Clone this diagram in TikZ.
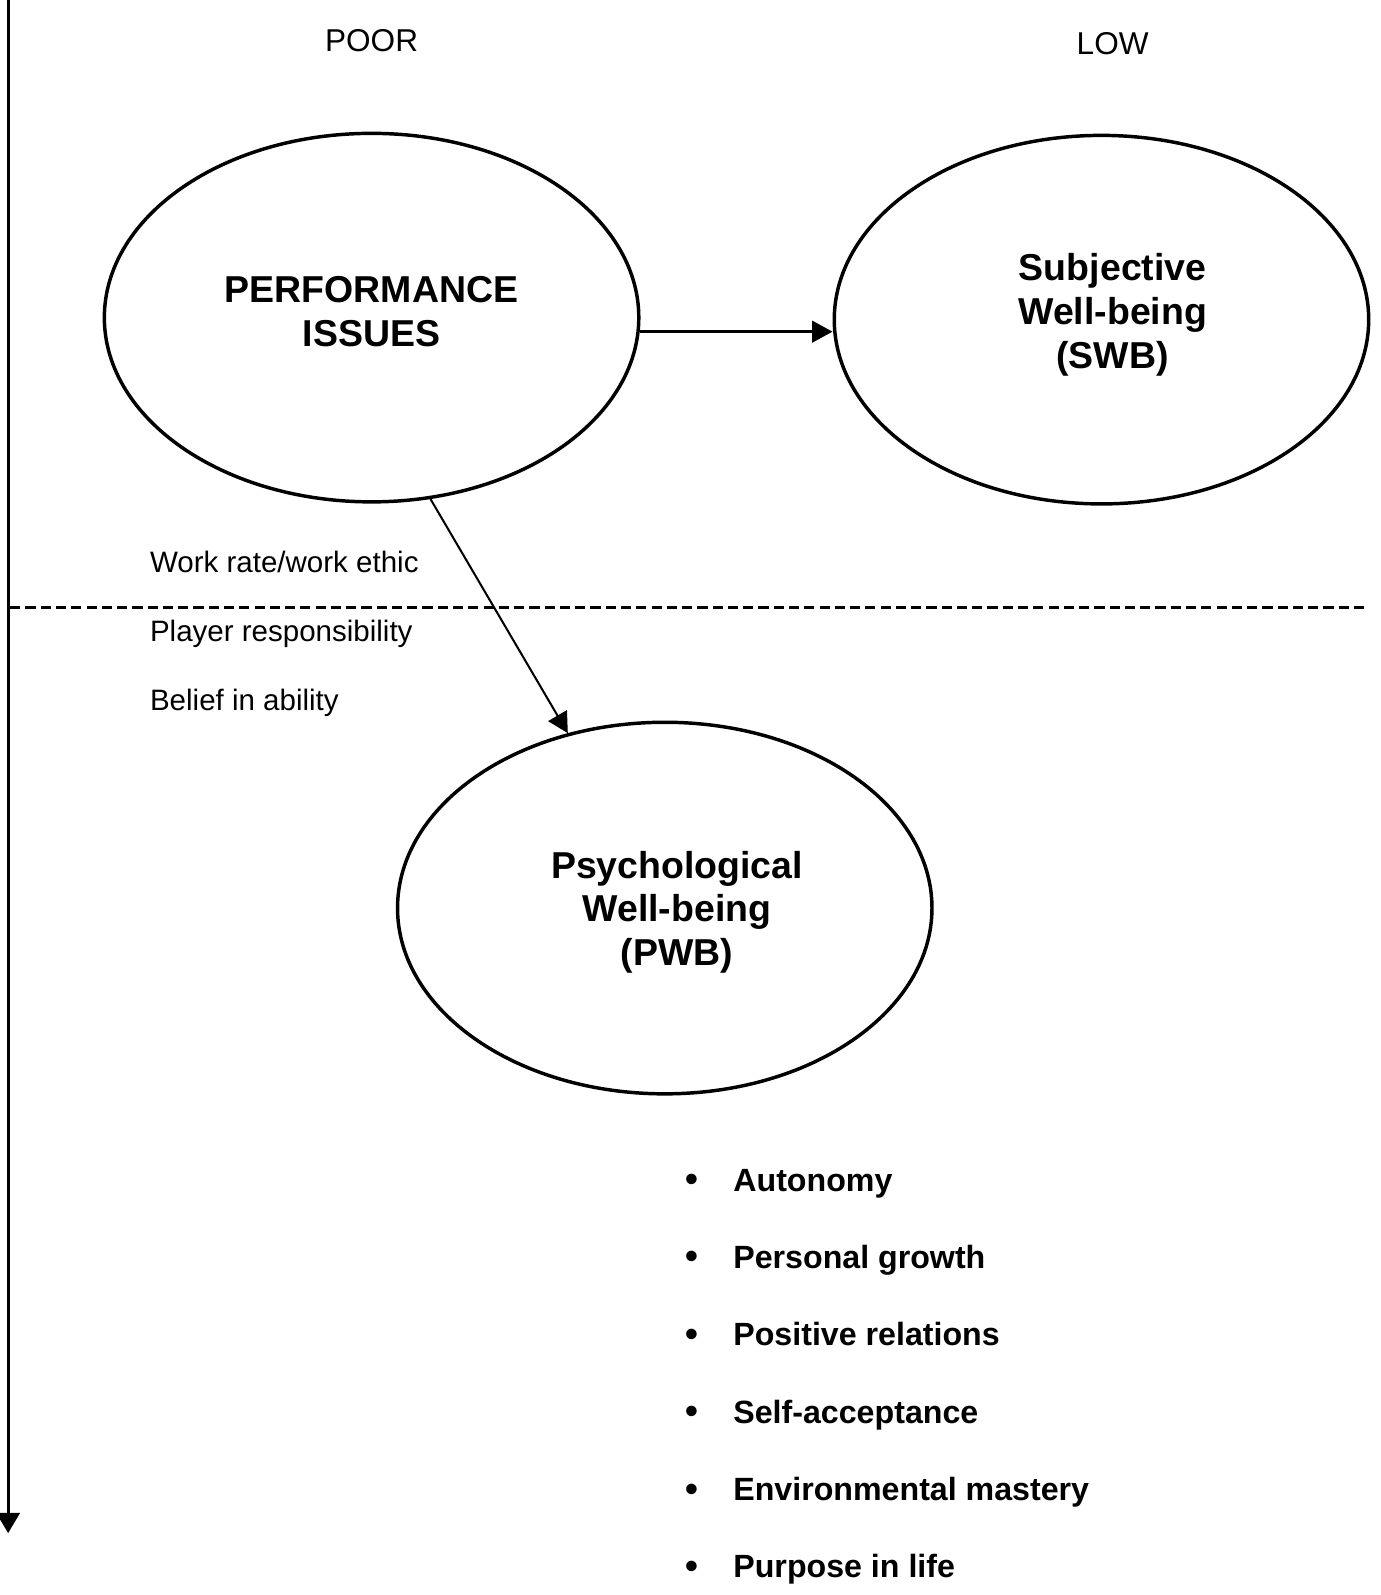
\documentclass[tikz,border=0pt]{standalone}
\usepackage{fontspec}
\setmainfont{Liberation Sans}
\usetikzlibrary{shapes.geometric,arrows.meta}
\tikzset{
  oval/.style={draw,ellipse,line width=1.7pt,inner sep=0pt,minimum width=262.5pt,minimum height=181pt},
  bigtext/.style={align=center,font=\fontsize{18.4}{21.5}\selectfont\bfseries},
  toptext/.style={font=\fontsize{15.5}{18}\selectfont},
  factor/.style={anchor=base west,inner sep=0pt,font=\fontsize{14.5}{17}\selectfont},
  item/.style={anchor=base west,inner sep=0pt,font=\fontsize{15.8}{19}\selectfont\bfseries},
  tip/.style={-{Triangle[length=10pt,width=10.5pt]}}
}
\begin{document}
\begin{tikzpicture}[x=0.5pt,y=-0.5pt]
        \useasboundingbox (0,0) rectangle (1355.6,1566.8);
        % axis on the left and the dashed divider
        \coordinate (axtop) at (8,0);
        \coordinate (axend) at (8,1506);
        \draw [-{Triangle[length=10pt,width=11.5pt]},line width=1.4pt] (axtop) to (axend);
        \coordinate (divl) at (10,597);
        \coordinate (divr) at (1340,597);
        \draw [line width=1.3pt,dash pattern=on 5pt off 2.5pt] (divl) to (divr);
        \node [toptext] (poor) at (365,40) {POOR};
        \node [toptext] (low) at (1093,43) {LOW};
        % the three ellipses
        \node [oval] (perf) at (365,312) {};
        \node [oval] (swb) at (1082,314) {};
        \node [oval,minimum height=182.5pt] (pwb) at (653,892) {};
        \node [bigtext] (perftxt) at (365,306) {PERFORMANCE\\ISSUES};
        \node [bigtext] (swbtxt) at (1093,309) {Subjective\\Well-being\\(SWB)};
        \node [bigtext] (pwbtxt) at (665,896) {Psychological\\Well-being\\(PWB)};
        \draw [tip,line width=1.5pt] (perf.-3) to (perf.-3 -| swb.west);
        \draw [tip,line width=1pt] (perf.-72) to (pwb.119);
        % factors beside the arrow
        \node [factor] (work) at (147,562) {Work rate/work ethic};
        \node [factor] (resp) at (147,630) {Player responsibility};
        \node [factor] (belief) at (147,698) {Belief in ability};
        % PWB dimensions
        \foreach \txt [count=\i] in {Autonomy,Personal growth,Positive relations,Self-acceptance,Environmental mastery,Purpose in life}
        {
        \node [font=\fontsize{18}{19}\selectfont\bfseries] (dot\i) at (680,1086+76*\i) {•};
        \node [item] (dim\i) at (720,1094+76*\i) {\txt};
        }
    \end{tikzpicture}
\end{document}
